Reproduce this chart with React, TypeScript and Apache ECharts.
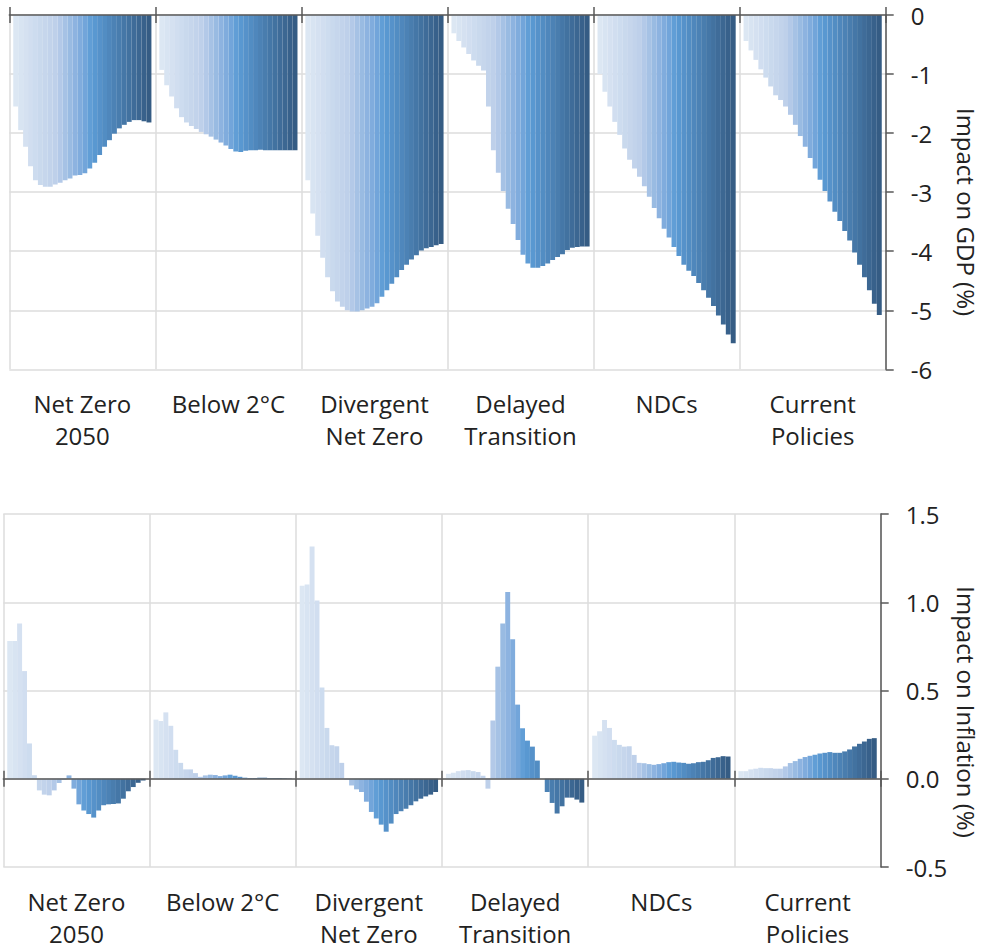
import React, { useEffect, useRef } from "react";
import * as echarts from "echarts";

const years = [
  "2023", "2024", "2025", "2026", "2027", "2028", "2029", "2030", "2031", "2032",
  "2033", "2034", "2035", "2036", "2037", "2038", "2039", "2040", "2041", "2042",
  "2043", "2044", "2045", "2046", "2047", "2048", "2049", "2050",
];

const scenarios = [
  "Net Zero\n2050",
  "Below 2°C",
  "Divergent\nNet Zero",
  "Delayed\nTransition",
  "NDCs",
  "Current\nPolicies",
];

// Impact on GDP (%)
const gdpNetZero2050 = [-1.55, -1.95, -2.23, -2.56, -2.8, -2.88, -2.91, -2.91, -2.87, -2.84, -2.8, -2.77, -2.72, -2.71, -2.68, -2.6, -2.5, -2.37, -2.23, -2.12, -2.01, -1.92, -1.86, -1.81, -1.78, -1.78, -1.8, -1.82];
const gdpBelow2C = [-0.93, -1.19, -1.38, -1.58, -1.73, -1.82, -1.88, -1.93, -1.98, -2.02, -2.06, -2.11, -2.16, -2.21, -2.27, -2.31, -2.32, -2.3, -2.29, -2.29, -2.28, -2.29, -2.29, -2.29, -2.29, -2.29, -2.29, -2.29];
const gdpDivergentNetZero = [-2.8, -3.36, -3.74, -4.11, -4.44, -4.68, -4.85, -4.94, -5.0, -5.02, -5.02, -5.0, -4.97, -4.94, -4.88, -4.77, -4.66, -4.55, -4.44, -4.32, -4.23, -4.14, -4.07, -3.99, -3.95, -3.93, -3.9, -3.88];
const gdpDelayedTransition = [-0.31, -0.44, -0.55, -0.66, -0.77, -0.86, -0.94, -1.55, -2.29, -2.67, -2.98, -3.28, -3.54, -3.81, -4.06, -4.21, -4.28, -4.28, -4.25, -4.21, -4.15, -4.1, -4.05, -3.98, -3.94, -3.93, -3.92, -3.92];
const gdpNDCs = [-1.0, -1.3, -1.55, -1.81, -2.03, -2.26, -2.45, -2.6, -2.74, -2.9, -3.08, -3.27, -3.44, -3.62, -3.77, -3.93, -4.08, -4.23, -4.33, -4.42, -4.54, -4.66, -4.79, -4.93, -5.09, -5.24, -5.41, -5.56];
const gdpCurrentPolicies = [-0.44, -0.6, -0.76, -0.92, -1.06, -1.21, -1.36, -1.44, -1.55, -1.69, -1.86, -2.05, -2.23, -2.42, -2.6, -2.79, -2.98, -3.16, -3.33, -3.49, -3.66, -3.82, -4.02, -4.23, -4.44, -4.66, -4.89, -5.08];

// Impact on Inflation (%)
const inflNetZero2050 = [0.78, 0.78, 0.88, 0.61, 0.2, 0.02, -0.066, -0.09, -0.094, -0.066, -0.024, -0.005, 0.019, -0.056, -0.145, -0.18, -0.2, -0.22, -0.18, -0.15, -0.145, -0.143, -0.14, -0.113, -0.071, -0.047, -0.023, -0.01];
const inflBelow2C = [0.335, 0.327, 0.376, 0.3, 0.164, 0.09, 0.053, 0.053, 0.032, 0.011, 0.019, 0.023, 0.021, 0.015, 0.019, 0.023, 0.017, 0.011, 0.006, 0.004, 0.004, 0.006, 0.006, 0.004, 0.004, 0.004, 0.003, 0.002];
const inflDivergentNetZero = [1.094, 1.1, 1.316, 1.01, 0.517, 0.288, 0.19, 0.184, 0.09, -0.005, -0.038, -0.06, -0.075, -0.13, -0.188, -0.225, -0.26, -0.3, -0.254, -0.2, -0.184, -0.17, -0.15, -0.128, -0.113, -0.1, -0.09, -0.075];
const inflDelayedTransition = [0.028, 0.034, 0.043, 0.047, 0.049, 0.043, 0.038, 0.017, -0.056, 0.33, 0.635, 0.88, 1.058, 0.79, 0.42, 0.286, 0.216, 0.182, 0.103, 0.0, -0.075, -0.137, -0.197, -0.156, -0.107, -0.107, -0.118, -0.135];
const inflNDCs = [0.244, 0.269, 0.333, 0.288, 0.22, 0.192, 0.182, 0.184, 0.135, 0.09, 0.088, 0.083, 0.079, 0.083, 0.088, 0.094, 0.096, 0.092, 0.09, 0.085, 0.088, 0.094, 0.096, 0.105, 0.118, 0.122, 0.128, 0.126];
const inflCurrentPolicies = [0.043, 0.043, 0.053, 0.057, 0.062, 0.06, 0.06, 0.057, 0.057, 0.07, 0.089, 0.1, 0.113, 0.123, 0.13, 0.136, 0.143, 0.147, 0.151, 0.147, 0.147, 0.155, 0.166, 0.183, 0.198, 0.211, 0.226, 0.23];

const gdpValues = [gdpNetZero2050, gdpBelow2C, gdpDivergentNetZero, gdpDelayedTransition, gdpNDCs, gdpCurrentPolicies];
const inflValues = [inflNetZero2050, inflBelow2C, inflDivergentNetZero, inflDelayedTransition, inflNDCs, inflCurrentPolicies];

const gdpTicks = { min: -6, max: 0, interval: 1 };
const inflTicks = { min: -0.5, max: 1.5, interval: 0.5 };

const FONT = "'Open Sans', 'Noto Sans', sans-serif";
const TEXT = "#222222";
const AXIS = "#595959";
const GRIDLINE = "#dcdcdc";

const colorStops: [number, number[]][] = [
  [0, [220, 231, 243]],
  [0.3, [190, 208, 234]],
  [0.5, [122, 168, 220]],
  [0.57, [91, 155, 213]],
  [1, [53, 92, 132]],
];

function colorAt(t: number): string {
  for (let k = 0; k < colorStops.length - 1; k++) {
    const [t0, c0] = colorStops[k];
    const [t1, c1] = colorStops[k + 1];
    if (t >= t0 && t <= t1) {
      const f = (t - t0) / (t1 - t0);
      const c = c0.map((v, j) => Math.round(v + (c1[j] - v) * f));
      return `rgb(${c[0]},${c[1]},${c[2]})`;
    }
  }
  const c = colorStops[colorStops.length - 1][1];
  return `rgb(${c[0]},${c[1]},${c[2]})`;
}

const barColors = years.map((_, i) => colorAt(i / (years.length - 1)));

type Cfg = {
  grid: { left: number; right: number; top: number; height: number };
  ticks: { min: number; max: number; interval: number };
  values: number[][];
  fmt: (v: number) => string;
  name: string;
  nameX: number;
  nameY: number;
  labelMargin: number;
};

function buildOption(cfg: Cfg): any {
  const series = years.map((y, i) => ({
    name: y,
    type: "bar",
    xAxisIndex: 0,
    yAxisIndex: 0,
    data: cfg.values.map((arr) => arr[i]),
    barGap: "0%",
    barCategoryGap: "5.4%",
    itemStyle: { color: barColors[i] },
    silent: true,
  }));

  const zeroAxisBase = {
    type: "category",
    data: scenarios,
    position: "bottom",
    z: 10,
    axisLabel: { show: false },
    splitLine: { show: false },
  };

  return {
    animation: false,
    textStyle: { fontFamily: FONT },
    grid: { ...cfg.grid, containLabel: false },
    xAxis: [
      {
        type: "category",
        data: scenarios,
        position: "bottom",
        axisLine: { show: false, onZero: false },
        axisTick: { show: false },
        axisLabel: {
          interval: 0,
          margin: cfg.labelMargin,
          fontSize: 24,
          lineHeight: 32,
          color: TEXT,
          fontFamily: FONT,
        },
        splitLine: { show: true, interval: 0, lineStyle: { color: GRIDLINE, width: 1.5 } },
      },
      {
        ...zeroAxisBase,
        axisLine: { show: true, onZero: true, onZeroAxisIndex: 0, lineStyle: { color: AXIS, width: 1.5 } },
        axisTick: { show: true, interval: 0, length: 8, lineStyle: { color: AXIS, width: 1.5 } },
      },
      {
        ...zeroAxisBase,
        axisLine: { show: false, onZero: true, onZeroAxisIndex: 0 },
        axisTick: { show: true, inside: true, interval: 0, length: 8, lineStyle: { color: AXIS, width: 1.5 } },
      },
    ],
    yAxis: [
      {
        type: "value",
        position: "right",
        min: cfg.ticks.min,
        max: cfg.ticks.max,
        interval: cfg.ticks.interval,
        axisLine: { show: true, lineStyle: { color: AXIS, width: 1.5 } },
        axisTick: { show: true, length: 8, lineStyle: { color: AXIS, width: 1.5 } },
        axisLabel: { margin: 25, fontSize: 24, color: TEXT, fontFamily: FONT, formatter: cfg.fmt },
        splitLine: { show: true, lineStyle: { color: GRIDLINE, width: 1.5 } },
      },
    ],
    graphic: [
      {
        type: "text",
        x: cfg.nameX,
        y: cfg.nameY,
        rotation: -Math.PI / 2,
        style: {
          text: cfg.name,
          fontSize: 24,
          fontFamily: FONT,
          fill: TEXT,
          align: "center",
          verticalAlign: "middle",
          textAlign: "center",
          textVerticalAlign: "middle",
        },
      },
    ],
    series,
  };
}

function Chart({ option, style }: { option: any; style: React.CSSProperties }) {
  const ref = useRef<HTMLDivElement>(null);
  useEffect(() => {
    if (!ref.current) return;
    const chart = echarts.init(ref.current, undefined, { renderer: "svg" });
    chart.setOption(option);
    return () => chart.dispose();
  }, [option]);
  return <div ref={ref} style={style} />;
}

const topOption = buildOption({
  grid: { left: 9.3, right: 95.3, top: 15, height: 354.3 },
  ticks: gdpTicks,
  values: gdpValues,
  fmt: (v: number) => String(Math.round(v)),
  name: "Impact on GDP (%)",
  nameX: 966,
  nameY: 212,
  labelMargin: 18,
});

const bottomOption = buildOption({
  grid: { left: 3.3, right: 100.3, top: 44, height: 355 },
  ticks: inflTicks,
  values: inflValues,
  fmt: (v: number) => v.toFixed(1),
  name: "Impact on Inflation (%)",
  nameX: 966,
  nameY: 242,
  labelMargin: 18,
});

export default function App() {
  return (
    <div style={{ position: "fixed", left: 0, top: 0, width: 981, height: 949, background: "#fff" }}>
      <Chart option={topOption} style={{ position: "absolute", left: 0, top: 0, width: 981, height: 470 }} />
      <Chart option={bottomOption} style={{ position: "absolute", left: 0, top: 470, width: 981, height: 479 }} />
    </div>
  );
}
